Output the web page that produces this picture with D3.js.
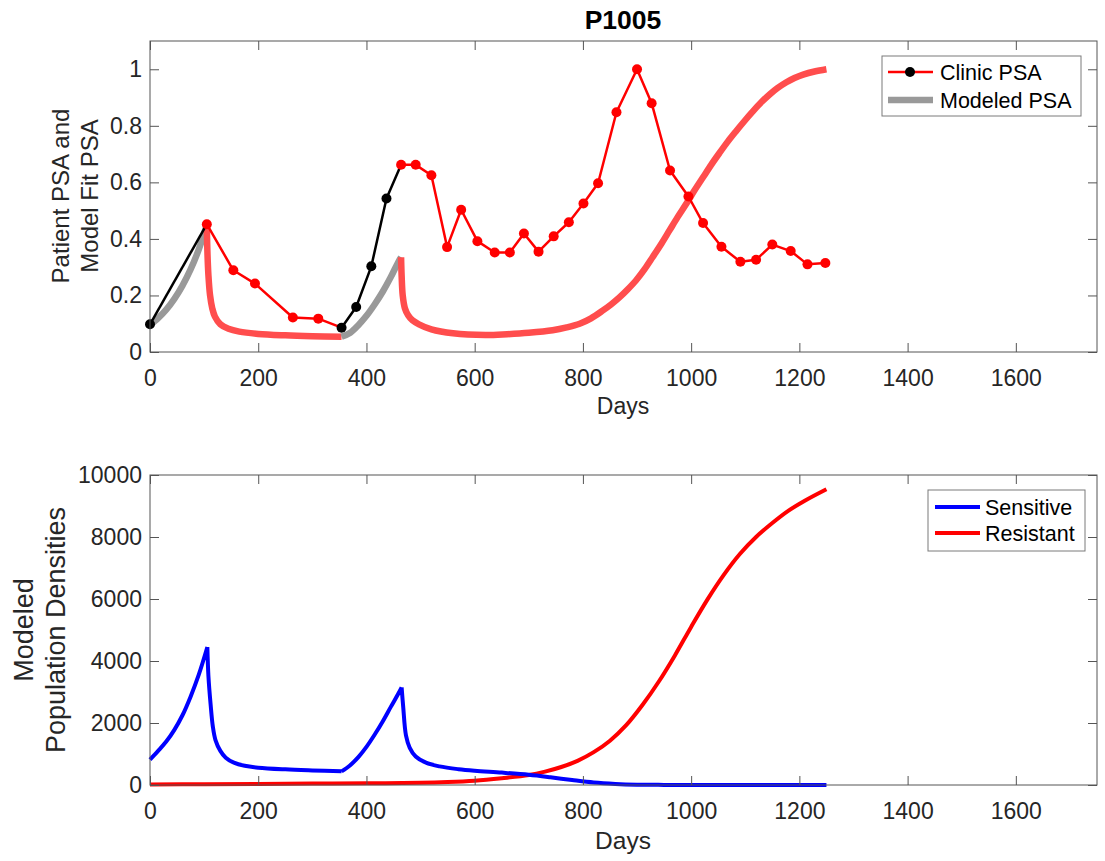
<!DOCTYPE html>
<html>
<head>
<meta charset="utf-8">
<script src="https://cdn.jsdelivr.net/npm/d3@7"></script>
<style>
  html, body { margin: 0; padding: 0; background: #fff; }
  svg { display: block; font-family: "Liberation Sans", Arial, Helvetica, sans-serif; }
</style>
</head>
<body>
<svg id="chart" width="1105" height="861"></svg>
<script>
// ---- Patient P1005: clinic PSA measurements ----
const clinicDays = [0, 105, 154, 194, 264, 311, 354, 381, 409, 437, 464, 491, 520, 549, 575, 605, 637, 665, 691, 718, 746, 774, 801, 828, 862, 900, 927, 961, 995, 1022, 1056, 1091, 1120, 1150, 1184, 1215, 1248];
const clinicPSA  = [0.098, 0.452, 0.289, 0.242, 0.122, 0.118, 0.086, 0.159, 0.303, 0.543, 0.662, 0.662, 0.625, 0.371, 0.503, 0.392, 0.352, 0.352, 0.419, 0.355, 0.409, 0.459, 0.525, 0.597, 0.848, 1.0, 0.88, 0.642, 0.55, 0.456, 0.372, 0.319, 0.326, 0.38, 0.357, 0.31, 0.315];

// Off-treatment intervals (days), drawn in black / gray
const offTreatment = [[0, 105], [354, 464]];

// ---- Model fit of PSA ----
const modelDays = [0, 15, 30, 45, 60, 75, 90, 105,
  106, 108, 111, 115, 120, 130, 145, 165, 200, 250, 300, 354,
  370, 385, 400, 415, 430, 445, 458, 464,
  465, 467, 471, 477, 485, 497, 520, 560, 620, 660, 700, 744, 770, 794, 815, 837, 852, 868, 883, 898, 914, 929, 945, 960, 975, 991, 1006, 1022,
  1037, 1052, 1068, 1083, 1099, 1114, 1130, 1145, 1160, 1176, 1191, 1207, 1228, 1250];
const modelPSA = [0.095, 0.12, 0.15, 0.188, 0.235, 0.292, 0.362, 0.45,
  0.36, 0.27, 0.2, 0.155, 0.125, 0.098, 0.082, 0.072, 0.064, 0.059, 0.056, 0.054,
  0.068, 0.095, 0.128, 0.168, 0.213, 0.265, 0.315, 0.335,
  0.27, 0.2, 0.155, 0.13, 0.112, 0.098, 0.08, 0.066, 0.06, 0.063, 0.068, 0.077, 0.087, 0.1, 0.119, 0.147, 0.168, 0.194, 0.222, 0.253, 0.293, 0.336, 0.383, 0.43, 0.477, 0.524, 0.571, 0.618,
  0.662, 0.703, 0.745, 0.781, 0.818, 0.851, 0.884, 0.911, 0.934, 0.954, 0.969, 0.981, 0.992, 1.0];

// ---- Modeled population densities ----
const sensitiveDays = [0, 15, 30, 45, 60, 75, 90, 106, 108, 112, 116, 121, 130, 140, 155, 175, 200, 250, 300, 354,
  370, 385, 400, 415, 430, 445, 458, 465, 468, 473, 480, 491, 510, 535, 570, 600, 650, 700, 740, 780, 820, 860, 900, 950, 1000, 1250];
const sensitive = [820, 1100, 1400, 1780, 2250, 2850, 3550, 4450, 3500, 2600, 1900, 1450, 1100, 880, 720, 620, 560, 505, 470, 440,
  640, 900, 1230, 1620, 2050, 2520, 2920, 3150, 2500, 1600, 1200, 920, 720, 600, 510, 460, 400, 330, 250, 160, 80, 35, 12, 4, 1, 0];
// days where the sensitive curve has a sharp corner (treatment switches)
const switchDays = [106, 354, 465];

const resistantDays = [0, 100, 200, 300, 400, 500, 550, 600, 650, 700, 730, 760, 790, 820, 850, 880, 910, 940, 970, 1000, 1030, 1060, 1090, 1120, 1150, 1180, 1210, 1250];
const resistant = [20, 25, 35, 45, 55, 70, 95, 140, 220, 320, 430, 580, 780, 1060, 1430, 1930, 2580, 3330, 4180, 5100, 5980, 6770, 7450, 8000, 8450, 8850, 9170, 9540];

// ---- Axis ticks ----
const dayTicks = [0, 200, 400, 600, 800, 1000, 1200, 1400, 1600];
const psaTicks = [0, 0.2, 0.4, 0.6, 0.8, 1];
const densityTicks = [0, 2000, 4000, 6000, 8000, 10000];

const svg = d3.select("#chart");
const axisColor = "#555";
const textColor = "#262626";
const tickLen = 9;
const smooth = d3.curveCatmullRom.alpha(0.5);

function frame(g, x, y, xTicks, yTicks, yFmt, fontSize) {
  const [x0, x1] = x.range();
  const [y0, y1] = y.range(); // y0 bottom, y1 top
  const bottom = g.append("g").attr("transform", `translate(0,${y0})`)
    .call(d3.axisBottom(x).tickValues(xTicks).tickSize(-tickLen).tickPadding(tickLen + 9).tickFormat(d3.format("d")));
  const left = g.append("g").attr("transform", `translate(${x0},0)`)
    .call(d3.axisLeft(y).tickValues(yTicks).tickSize(-tickLen).tickPadding(8).tickFormat(yFmt));
  const top = g.append("g").attr("transform", `translate(0,${y1})`)
    .call(d3.axisTop(x).tickValues(xTicks).tickSize(-tickLen).tickFormat(""));
  const right = g.append("g").attr("transform", `translate(${x1},0)`)
    .call(d3.axisRight(y).tickValues(yTicks).tickSize(-tickLen).tickFormat(""));
  [bottom, left, top, right].forEach(a => {
    a.select(".domain").remove();
    a.selectAll(".tick line").attr("stroke", axisColor).attr("stroke-width", 1);
    a.selectAll("text").attr("fill", textColor).attr("font-size", fontSize)
      .attr("font-family", "Liberation Sans, Arial, sans-serif");
  });
  g.append("rect").attr("x", x0).attr("y", y1).attr("width", x1 - x0).attr("height", y0 - y1)
    .attr("fill", "none").attr("stroke", axisColor).attr("stroke-width", 1);
}

// ================= Top panel: PSA =================
const xTop = d3.scaleLinear().domain([0, 1750]).range([150, 1097]);
const yTop = d3.scaleLinear().domain([0, 1.1]).range([352, 41]);
const gTop = svg.append("g");

const inOff = d => offTreatment.some(([a, b]) => d >= a && d <= b);

// split a series into runs of on/off-treatment segments
function runs(days, vals) {
  const out = [];
  for (let i = 0; i < days.length - 1; i++) {
    const off = inOff(days[i]) && inOff(days[i + 1]);
    const last = out[out.length - 1];
    if (last && last.off === off) last.pts.push([days[i + 1], vals[i + 1]]);
    else out.push({ off, pts: [[days[i], vals[i]], [days[i + 1], vals[i + 1]]] });
  }
  return out;
}

const modelLine = d3.line().x(d => xTop(d[0])).y(d => yTop(d[1])).curve(smooth);
runs(modelDays, modelPSA).forEach(r => {
  gTop.append("path").attr("d", modelLine(r.pts)).attr("fill", "none")
    .attr("stroke", r.off ? "#999999" : "#ff4d4d").attr("stroke-width", 6.5)
    .attr("stroke-linecap", "butt").attr("stroke-linejoin", "round");
});

const clinicLine = d3.line().x(d => xTop(d[0])).y(d => yTop(d[1]));
runs(clinicDays, clinicPSA).forEach(r => {
  gTop.append("path").attr("d", clinicLine(r.pts)).attr("fill", "none")
    .attr("stroke", r.off ? "#000" : "#ff0000").attr("stroke-width", 2.5)
    .attr("stroke-linejoin", "round");
});
gTop.selectAll("circle.pt").data(clinicDays.map((d, i) => [d, clinicPSA[i]]))
  .join("circle").attr("class", "pt")
  .attr("cx", d => xTop(d[0])).attr("cy", d => yTop(d[1])).attr("r", 5)
  .attr("fill", d => offTreatment.some(([a, b]) => d[0] >= a && d[0] < b) ? "#000" : "#ff0000");

frame(gTop, xTop, yTop, dayTicks, psaTicks, d3.format("~g"), 23);

gTop.append("text").attr("x", 623).attr("y", 29).attr("text-anchor", "middle")
  .attr("font-size", 26.5).attr("font-weight", "bold").attr("fill", "#000").text("P1005");
gTop.append("text").attr("x", 623).attr("y", 414).attr("text-anchor", "middle")
  .attr("font-size", 23).attr("fill", textColor).text("Days");
const yLabTop = gTop.append("text").attr("transform", "translate(0,196) rotate(-90)")
  .attr("text-anchor", "middle").attr("font-size", 24).attr("fill", textColor);
yLabTop.append("tspan").attr("x", 0).attr("y", 69).text("Patient PSA and");
yLabTop.append("tspan").attr("x", 0).attr("y", 98).text("Model Fit PSA");

// legend (top)
const lgTop = gTop.append("g");
lgTop.append("rect").attr("x", 882).attr("y", 56).attr("width", 199).attr("height", 60)
  .attr("fill", "#fff").attr("stroke", "#7a7a7a").attr("stroke-width", 1);
lgTop.append("line").attr("x1", 888).attr("x2", 933).attr("y1", 72).attr("y2", 72)
  .attr("stroke", "#ff0000").attr("stroke-width", 2.5);
lgTop.append("circle").attr("cx", 910).attr("cy", 72).attr("r", 5).attr("fill", "#000");
lgTop.append("line").attr("x1", 888).attr("x2", 933).attr("y1", 100).attr("y2", 100)
  .attr("stroke", "#999999").attr("stroke-width", 6.5);
lgTop.append("text").attr("x", 940).attr("y", 80).attr("font-size", 21.5).attr("fill", "#000").text("Clinic PSA");
lgTop.append("text").attr("x", 940).attr("y", 108).attr("font-size", 21.5).attr("fill", "#000").text("Modeled PSA");

// ================= Bottom panel: populations =================
const xBot = d3.scaleLinear().domain([0, 1750]).range([150, 1097]);
const yBot = d3.scaleLinear().domain([0, 10000]).range([785, 475]);
const gBot = svg.append("g");

const popLine = d3.line().x(d => xBot(d[0])).y(d => yBot(d[1])).curve(smooth);
gBot.append("path").attr("d", popLine(resistantDays.map((d, i) => [d, resistant[i]])))
  .attr("fill", "none").attr("stroke", "#ff0000").attr("stroke-width", 4);

// sensitive curve: smooth pieces joined at the treatment switches
const sensPts = sensitiveDays.map((d, i) => [d, sensitive[i]]);
const sensPieces = [];
let piece = [];
sensPts.forEach(p => {
  piece.push(p);
  if (switchDays.includes(p[0])) { sensPieces.push(piece); piece = [p]; }
});
sensPieces.push(piece);
gBot.append("path").attr("d", sensPieces.map(pc => popLine(pc)).join(""))
  .attr("fill", "none").attr("stroke", "#0000ff").attr("stroke-width", 4).attr("stroke-linejoin", "round");

frame(gBot, xBot, yBot, dayTicks, densityTicks, d3.format("d"), 23);

gBot.append("text").attr("x", 623).attr("y", 849).attr("text-anchor", "middle")
  .attr("font-size", 24.5).attr("fill", textColor).text("Days");
const yLabBot = gBot.append("text").attr("transform", "translate(0,630) rotate(-90)")
  .attr("text-anchor", "middle").attr("font-size", 27).attr("fill", textColor);
yLabBot.append("tspan").attr("x", 0).attr("y", 33).text("Modeled");
yLabBot.append("tspan").attr("x", 0).attr("y", 65).text("Population Densities");

// legend (bottom)
const lgBot = gBot.append("g");
lgBot.append("rect").attr("x", 928).attr("y", 490).attr("width", 157).attr("height", 61)
  .attr("fill", "#fff").attr("stroke", "#7a7a7a").attr("stroke-width", 1);
lgBot.append("line").attr("x1", 935).attr("x2", 980).attr("y1", 507).attr("y2", 507)
  .attr("stroke", "#0000ff").attr("stroke-width", 4);
lgBot.append("line").attr("x1", 935).attr("x2", 980).attr("y1", 533).attr("y2", 533)
  .attr("stroke", "#ff0000").attr("stroke-width", 4);
lgBot.append("text").attr("x", 985).attr("y", 515).attr("font-size", 21.5).attr("fill", "#000").text("Sensitive");
lgBot.append("text").attr("x", 985).attr("y", 541).attr("font-size", 21.5).attr("fill", "#000").text("Resistant");
</script>
</body>
</html>
